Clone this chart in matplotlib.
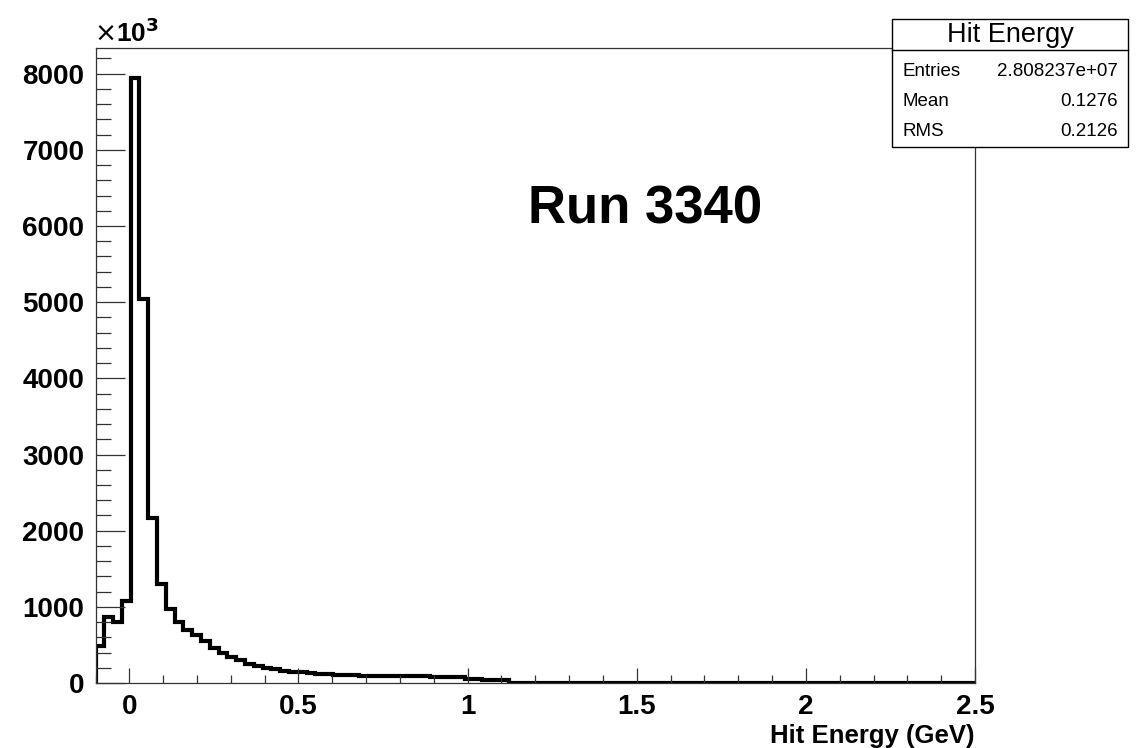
import numpy as np
import matplotlib
matplotlib.use("Agg")
import matplotlib.pyplot as plt
from matplotlib.ticker import FixedLocator, MultipleLocator
from matplotlib.patches import Rectangle
from matplotlib.lines import Line2D

# Histogram definition: 100 bins on [-0.1, 2.5] GeV
x_min, x_max, n_bins = -0.1, 2.5, 100

# Bin contents in units of 10^3 entries
counts_k = [
    490, 870, 805, 1080, 7940, 5040, 2170, 1305, 975, 805,
    700, 625, 550, 465, 390, 340, 300, 255, 225, 200,
    180, 162, 150, 138, 130, 122, 115, 108, 104, 100,
    98, 96, 95, 94, 93, 92, 92, 91, 85, 83,
    80, 78, 50, 48, 38, 36, 35, 6, 5, 5,
    4, 4, 3, 3, 3, 2, 2, 2, 2, 2,
    1, 1, 1, 1, 1, 1, 1, 1, 1, 1,
    1, 1, 1, 1, 1, 1, 1, 1, 1, 1,
    1, 1, 1, 1, 1, 1, 1, 1, 1, 1,
    1, 1, 1, 1, 1, 1, 1, 1, 1, 1,
]

y_ticks = [0, 1000, 2000, 3000, 4000, 5000, 6000, 7000, 8000]
x_ticks = [0, 0.5, 1, 1.5, 2, 2.5]
x_tick_labels = ["0", "0.5", "1", "1.5", "2", "2.5"]

hist_title = "Hit Energy"
stat_names = ["Entries", "Mean", "RMS"]
stat_values = ["2.808237e+07", "0.1276", "0.2126"]
run_label = "Run 3340"
x_label = "Hit Energy (GeV)"

plt.rcParams["font.family"] = ["Liberation Sans", "DejaVu Sans"]

W, H = 1137, 748
fig = plt.figure(figsize=(W / 100, H / 100), dpi=100)

def px_rect(l, t, r, b):
    return [l / W, 1 - b / H, (r - l) / W, (b - t) / H]

ax = fig.add_axes(px_rect(95.5, 48, 975, 683))

edges = np.linspace(x_min, x_max, n_bins + 1)
ax.stairs(counts_k, edges, color="black", linewidth=3.0, baseline=0)

ax.set_xlim(x_min, x_max)
ax.set_ylim(0, 1.05 * max(counts_k))

ax.xaxis.set_major_locator(FixedLocator(x_ticks))
ax.set_xticklabels(x_tick_labels)
ax.xaxis.set_minor_locator(MultipleLocator(0.1))
ax.yaxis.set_major_locator(FixedLocator(y_ticks))
ax.set_yticklabels([str(v) for v in y_ticks])
ax.yaxis.set_minor_locator(MultipleLocator(200))

ax.tick_params(axis="x", which="major", direction="in", length=11, width=0.9,
               pad=8, labelsize=20, color="#333333")
ax.tick_params(axis="x", which="minor", direction="in", length=5.5, width=0.9,
               color="#333333")
ax.tick_params(axis="y", which="major", direction="in", length=21, width=0.9,
               pad=8, labelsize=20, color="#333333")
ax.tick_params(axis="y", which="minor", direction="in", length=10.5, width=0.9,
               color="#333333")
ax.tick_params(top=False, right=False, which="both")
for lbl in ax.get_xticklabels() + ax.get_yticklabels():
    lbl.set_fontweight("bold")
for sp in ax.spines.values():
    sp.set_linewidth(0.9)
    sp.set_color("#333333")

ax.set_xlabel(x_label, fontsize=18.5, fontweight="bold", loc="right", labelpad=3)

ax.text(0.625, 0.745, run_label, transform=ax.transAxes, fontsize=38,
        fontweight="bold", ha="center", va="center")

fig.text(94 / W, 1 - 33 / H, r"$\times$10$^{\mathbf{3}}$", fontsize=19,
         fontweight="bold", ha="left", va="center")

# Statistics box
bl, bt, br, bb, bdiv = 892, 19, 1128, 147, 50
fig.patches.append(Rectangle((bl / W, 1 - bb / H), (br - bl) / W, (bb - bt) / H,
                             transform=fig.transFigure, facecolor="white",
                             edgecolor="black", linewidth=1.0, zorder=5))
fig.lines.append(Line2D([bl / W, br / W], [1 - bdiv / H, 1 - bdiv / H],
                        transform=fig.transFigure, color="black",
                        linewidth=1.0, zorder=6))
fig.text((bl + br) / 2 / W, 1 - 35 / H, hist_title, fontsize=19.5,
         ha="center", va="center", zorder=7)
for i, (name, val) in enumerate(zip(stat_names, stat_values)):
    y = 1 - (71 + 30 * i) / H
    fig.text(903 / W, y, name, fontsize=13.5, ha="left", va="center", zorder=7)
    fig.text(1118 / W, y, val, fontsize=13.5, ha="right", va="center", zorder=7)

fig.savefig("out.png", dpi=100, facecolor="white")
